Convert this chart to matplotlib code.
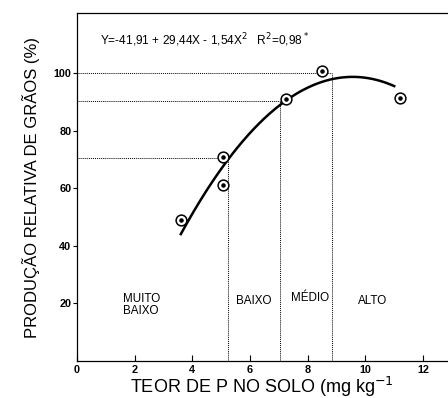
import numpy as np
import matplotlib
matplotlib.use("Agg")
import matplotlib.pyplot as plt

plt.rcParams['font.family'] = ['Liberation Sans', 'DejaVu Sans']

# observed data
p_solo = [3.6, 5.05, 5.05, 7.25, 8.5, 11.2]
prod_rel = [49.0, 70.8, 61.3, 91.2, 101.0, 91.5]

# regression coefficients (Y = a + bX + cX^2)
coef_a, coef_b, coef_c = -41.91, 29.44, -1.54
curve_x_range = [3.6, 11.0]

# critical levels (x, y)
crit_x = [5.25, 7.05, 8.85]
crit_y = [70.5, 90.5, 100.0]

classes = ["MUITO\nBAIXO", "BAIXO", "MÉDIO", "ALTO"]
class_x = [1.6, 5.5, 7.42, 9.75]
class_y = [19.5, 20.8, 21.8, 20.8]

xticks = [0, 2, 4, 6, 8, 10, 12]
yticks = [20, 40, 60, 80, 100]

fig = plt.figure(figsize=(4.48, 3.98), dpi=100)
ax = fig.add_axes([77/448, 37/398, 370/448, 348/398])

xs = np.linspace(curve_x_range[0], curve_x_range[1], 200)
ys = coef_a + coef_b*xs + coef_c*xs**2
ax.plot(xs, ys, color='black', lw=1.8, zorder=3)

for cx, cy in zip(crit_x, crit_y):
    ax.plot([0, cx], [cy, cy], color='black', lw=0.7, ls=(0, (1, 1)), zorder=2)
    ax.plot([cx, cx], [0, cy], color='black', lw=0.7, ls=(0, (1, 1)), zorder=2)

ax.scatter(p_solo, prod_rel, s=60, facecolor='white', edgecolor='black', lw=1.1, zorder=4)
ax.scatter(p_solo, prod_rel, s=5, color='black', zorder=5)

for t, x, y in zip(classes, class_x, class_y):
    ax.text(x, y, t, fontsize=8.4, va='center', ha='left', linespacing=0.95)

ax.text(0.8, 111.5, "Y=-41,91 + 29,44X - 1,54X$^2$   R$^2$=0,98$^*$", fontsize=8.6, va='center')

ax.set_xlim(0, 12.83)
ax.set_ylim(0, 121)
ax.set_xticks(xticks)
ax.set_yticks(yticks)
ax.tick_params(axis='x', direction='in', length=4, labelsize=7.8, pad=3)
ax.tick_params(axis='y', direction='out', length=3, labelsize=7.8, pad=1)
for lbl in ax.get_xticklabels() + ax.get_yticklabels():
    lbl.set_fontweight('bold')
ax.spines['right'].set_visible(False)
for s in ['left', 'bottom', 'top']:
    ax.spines[s].set_linewidth(0.9)

ax.set_xlabel("TEOR DE P NO SOLO (mg kg$^{-1}$", fontsize=13, labelpad=0)
ax.set_ylabel("PRODUÇÃO RELATIVA DE GRÃOS (%)", fontsize=12, labelpad=10)

fig.savefig("out.png", dpi=100)
